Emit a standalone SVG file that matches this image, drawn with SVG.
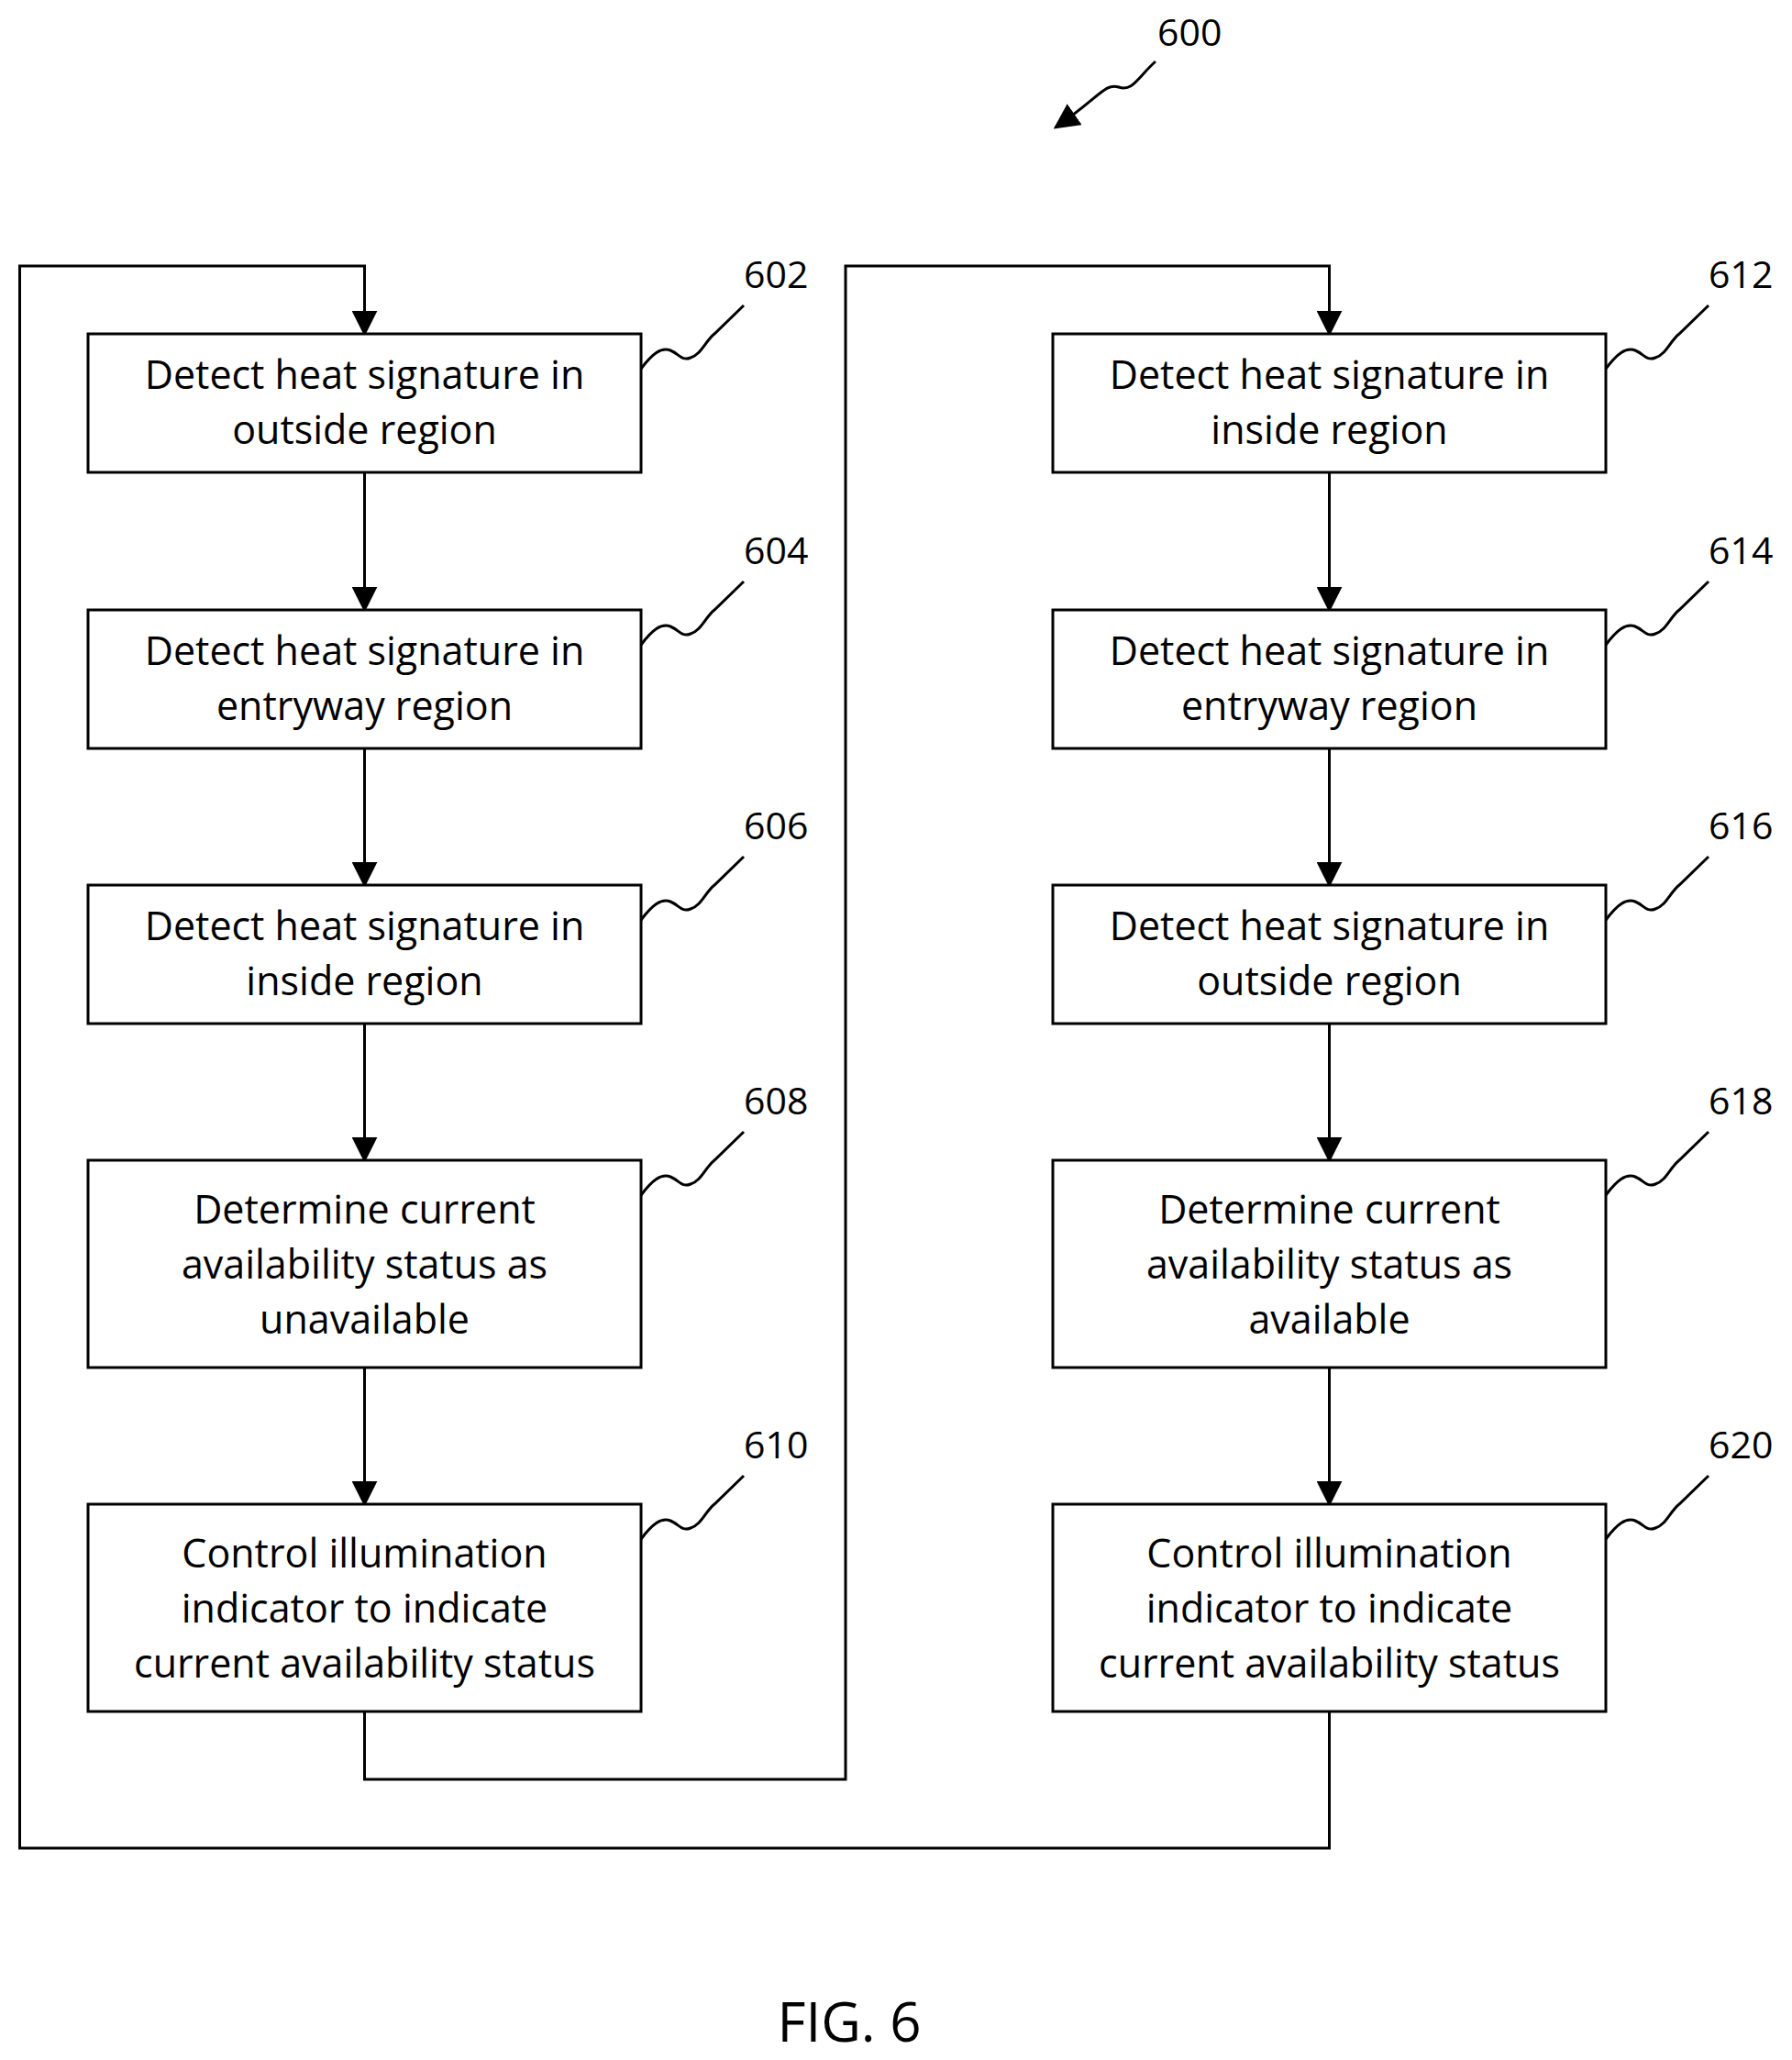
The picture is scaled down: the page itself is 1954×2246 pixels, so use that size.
<svg xmlns="http://www.w3.org/2000/svg" width="1954" height="2246" viewBox="0 0 1954 2246">
<style>
.b{fill:#fff;stroke:#000;stroke-width:3}
.t{font-family:"Open Sans","Liberation Sans",sans-serif;font-size:43px;text-anchor:middle;fill:#000}
.n{font-family:"Open Sans","Liberation Sans",sans-serif;font-size:41px;fill:#000}
.c{fill:none;stroke:#000;stroke-width:3}
</style>
<defs>
<marker id="A" viewBox="0 0 10 10" refX="9" refY="5" markerWidth="28" markerHeight="28" orient="auto" markerUnits="userSpaceOnUse"><path d="M0,0 L10,5 L0,10z"/></marker>
<path id="sq" d="M0,0 C12,-16 22,-24 32,-20 C42,-16 44,-8 54,-12 C66,-16 70,-30 80,-38 L112,-69" fill="none" stroke="#000" stroke-width="3"/>
</defs>
<g id="connectors">
<path class="c" marker-end="url(#A)" d="M397.5,515 V665"/>
<path class="c" marker-end="url(#A)" d="M397.5,816 V965"/>
<path class="c" marker-end="url(#A)" d="M397.5,1116 V1265"/>
<path class="c" marker-end="url(#A)" d="M397.5,1491 V1640"/>
<path class="c" marker-end="url(#A)" d="M1449.5,515 V665"/>
<path class="c" marker-end="url(#A)" d="M1449.5,816 V965"/>
<path class="c" marker-end="url(#A)" d="M1449.5,1116 V1265"/>
<path class="c" marker-end="url(#A)" d="M1449.5,1491 V1640"/>
<path class="c" marker-end="url(#A)" d="M397.5,1866 V1940 H922 V290 H1449.5 V364"/>
<path class="c" marker-end="url(#A)" d="M1449.5,1866 V2015 H21.5 V290 H397.5 V364"/>
<path class="c" marker-end="url(#A)" d="M1260,67 C1240,85 1235,100 1220,95 C1205,90 1200,105 1151,139"/>
</g>
<text class="n" x="1262" y="50">600</text>
<g id="n602"><rect class="b" x="96" y="364" width="603" height="151"/><text class="t" x="397.5" y="424">Detect heat signature in</text><text class="t" x="397.5" y="484">outside region</text><use href="#sq" x="699" y="402"/><text class="n" x="811" y="314">602</text></g>
<g id="n604"><rect class="b" x="96" y="665" width="603" height="151"/><text class="t" x="397.5" y="725">Detect heat signature in</text><text class="t" x="397.5" y="785">entryway region</text><use href="#sq" x="699" y="703"/><text class="n" x="811" y="615">604</text></g>
<g id="n606"><rect class="b" x="96" y="965" width="603" height="151"/><text class="t" x="397.5" y="1025">Detect heat signature in</text><text class="t" x="397.5" y="1085">inside region</text><use href="#sq" x="699" y="1003"/><text class="n" x="811" y="915">606</text></g>
<g id="n608"><rect class="b" x="96" y="1265" width="603" height="226"/><text class="t" x="397.5" y="1334">Determine current</text><text class="t" x="397.5" y="1394">availability status as</text><text class="t" x="397.5" y="1454">unavailable</text><use href="#sq" x="699" y="1303"/><text class="n" x="811" y="1215">608</text></g>
<g id="n610"><rect class="b" x="96" y="1640" width="603" height="226"/><text class="t" x="397.5" y="1709">Control illumination</text><text class="t" x="397.5" y="1769">indicator to indicate</text><text class="t" x="397.5" y="1829">current availability status</text><use href="#sq" x="699" y="1678"/><text class="n" x="811" y="1590">610</text></g>
<g id="n612"><rect class="b" x="1148" y="364" width="603" height="151"/><text class="t" x="1449.5" y="424">Detect heat signature in</text><text class="t" x="1449.5" y="484">inside region</text><use href="#sq" x="1751" y="402"/><text class="n" x="1863" y="314">612</text></g>
<g id="n614"><rect class="b" x="1148" y="665" width="603" height="151"/><text class="t" x="1449.5" y="725">Detect heat signature in</text><text class="t" x="1449.5" y="785">entryway region</text><use href="#sq" x="1751" y="703"/><text class="n" x="1863" y="615">614</text></g>
<g id="n616"><rect class="b" x="1148" y="965" width="603" height="151"/><text class="t" x="1449.5" y="1025">Detect heat signature in</text><text class="t" x="1449.5" y="1085">outside region</text><use href="#sq" x="1751" y="1003"/><text class="n" x="1863" y="915">616</text></g>
<g id="n618"><rect class="b" x="1148" y="1265" width="603" height="226"/><text class="t" x="1449.5" y="1334">Determine current</text><text class="t" x="1449.5" y="1394">availability status as</text><text class="t" x="1449.5" y="1454">available</text><use href="#sq" x="1751" y="1303"/><text class="n" x="1863" y="1215">618</text></g>
<g id="n620"><rect class="b" x="1148" y="1640" width="603" height="226"/><text class="t" x="1449.5" y="1709">Control illumination</text><text class="t" x="1449.5" y="1769">indicator to indicate</text><text class="t" x="1449.5" y="1829">current availability status</text><use href="#sq" x="1751" y="1678"/><text class="n" x="1863" y="1590">620</text></g>
<text class="t" x="926" y="2226" style="font-size:60px">FIG. 6</text>
</svg>
